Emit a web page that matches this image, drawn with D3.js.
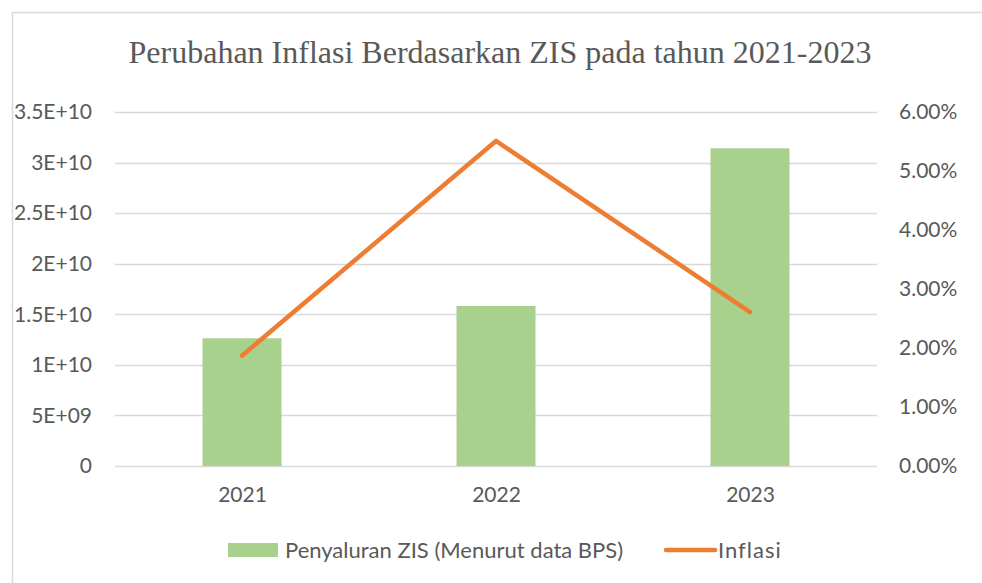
<!DOCTYPE html>
<html><head><meta charset="utf-8">
<script src="https://cdn.jsdelivr.net/npm/d3@7"></script>
<style>html,body{margin:0;padding:0;background:#fff;}svg{display:block;}</style>
</head><body>
<svg id="chart" width="982" height="583"></svg>
<script>
const categories = ["2021", "2022", "2023"];
const zisValues = [1.263e10, 1.582e10, 3.141e10];
const inflationValues = [0.0187, 0.0551, 0.0261];
const leftTicks = [0, 5e9, 1e10, 1.5e10, 2e10, 2.5e10, 3e10, 3.5e10];
const leftTickLabels = ["0", "5E+09", "1E+10", "1.5E+10", "2E+10", "2.5E+10", "3E+10", "3.5E+10"];
const rightTicks = [0, 0.01, 0.02, 0.03, 0.04, 0.05, 0.06];
const rightTickLabels = ["0.00%", "1.00%", "2.00%", "3.00%", "4.00%", "5.00%", "6.00%"];
const title = "Perubahan Inflasi Berdasarkan ZIS pada tahun 2021-2023";
const legendLabels = ["Penyaluran ZIS (Menurut data BPS)", "Inflasi"];

const svg = d3.select("#chart");
const font = "Lato, 'Open Sans', sans-serif";
const textColor = "#595959";
const gridColor = "#D9D9D9";
const barColor = "#A9D18E";
const lineColor = "#ED7D31";

const plot = {left: 115, right: 877, top: 112, bottom: 466};

// outer border
svg.append("rect").attr("x", 12.5).attr("y", 12.5).attr("width", 1000).attr("height", 600)
  .attr("fill", "#fff").attr("stroke", gridColor).attr("stroke-width", 1.5);

const x = d3.scaleBand().domain(categories).range([plot.left, plot.right])
  .paddingInner(0.689).paddingOuter(0.3445);
const xc = d3.scalePoint().domain(categories).range([plot.left, plot.right]).padding(0.5);
const yL = d3.scaleLinear().domain([0, 3.5e10]).range([plot.bottom, plot.top]);
const yR = d3.scaleLinear().domain([0, 0.06]).range([plot.bottom, plot.top]);

// title
svg.append("text").attr("x", 500).attr("y", 63).attr("text-anchor", "middle")
  .attr("font-family", "'Liberation Serif', 'Times New Roman', serif").attr("font-size", 32)
  .attr("fill", textColor).text(title);

// gridlines
svg.append("g").selectAll("line").data(leftTicks).join("line")
  .attr("x1", plot.left).attr("x2", plot.right)
  .attr("y1", d => Math.round(yL(d)) + 0.5).attr("y2", d => Math.round(yL(d)) + 0.5)
  .attr("stroke", gridColor).attr("stroke-width", 1.5);

// left axis labels
const axL = d3.axisLeft(yL).tickValues(leftTicks).tickFormat((d, i) => leftTickLabels[i]).tickSize(0).tickPadding(0);
const gL = svg.append("g").attr("transform", `translate(92,0)`).call(axL);
gL.select(".domain").remove();
gL.selectAll("text").attr("font-family", font).attr("font-size", 21).attr("fill", textColor);

// right axis labels
const axR = d3.axisRight(yR).tickValues(rightTicks).tickFormat((d, i) => rightTickLabels[i]).tickSize(0).tickPadding(0);
const gR = svg.append("g").attr("transform", `translate(899,0)`).call(axR);
gR.select(".domain").remove();
gR.selectAll("text").attr("font-family", font).attr("font-size", 21).attr("fill", textColor);

// bars
svg.append("g").selectAll("rect").data(categories).join("rect")
  .attr("x", d => x(d)).attr("width", x.bandwidth())
  .attr("y", (d, i) => yL(zisValues[i])).attr("height", (d, i) => plot.bottom - yL(zisValues[i]))
  .attr("fill", barColor);

// x axis labels
const axX = d3.axisBottom(xc).tickSize(0).tickPadding(0);
const gX = svg.append("g").attr("transform", `translate(0,${plot.bottom + 21})`).call(axX);
gX.select(".domain").remove();
gX.selectAll("text").attr("font-family", font).attr("font-size", 21).attr("fill", textColor);

// line
const line = d3.line().x((d, i) => xc(categories[i])).y(d => yR(d));
svg.append("path").datum(inflationValues).attr("d", line)
  .attr("fill", "none").attr("stroke", lineColor).attr("stroke-width", 4.5)
  .attr("stroke-linecap", "round").attr("stroke-linejoin", "round");

// legend
const lg = svg.append("g");
lg.append("rect").attr("x", 228).attr("y", 543).attr("width", 50).attr("height", 14).attr("fill", barColor);
lg.append("text").attr("x", 285).attr("y", 550).attr("dy", "0.35em").attr("font-family", font)
  .attr("font-size", 22).attr("fill", textColor).text(legendLabels[0]);
lg.append("line").attr("x1", 666).attr("x2", 715).attr("y1", 550).attr("y2", 550)
  .attr("stroke", lineColor).attr("stroke-width", 4.5).attr("stroke-linecap", "round");
lg.append("text").attr("x", 718).attr("y", 550).attr("dy", "0.35em").attr("font-family", font)
  .attr("font-size", 22).attr("letter-spacing", 1).attr("fill", textColor).text(legendLabels[1]);
</script>
</body></html>
